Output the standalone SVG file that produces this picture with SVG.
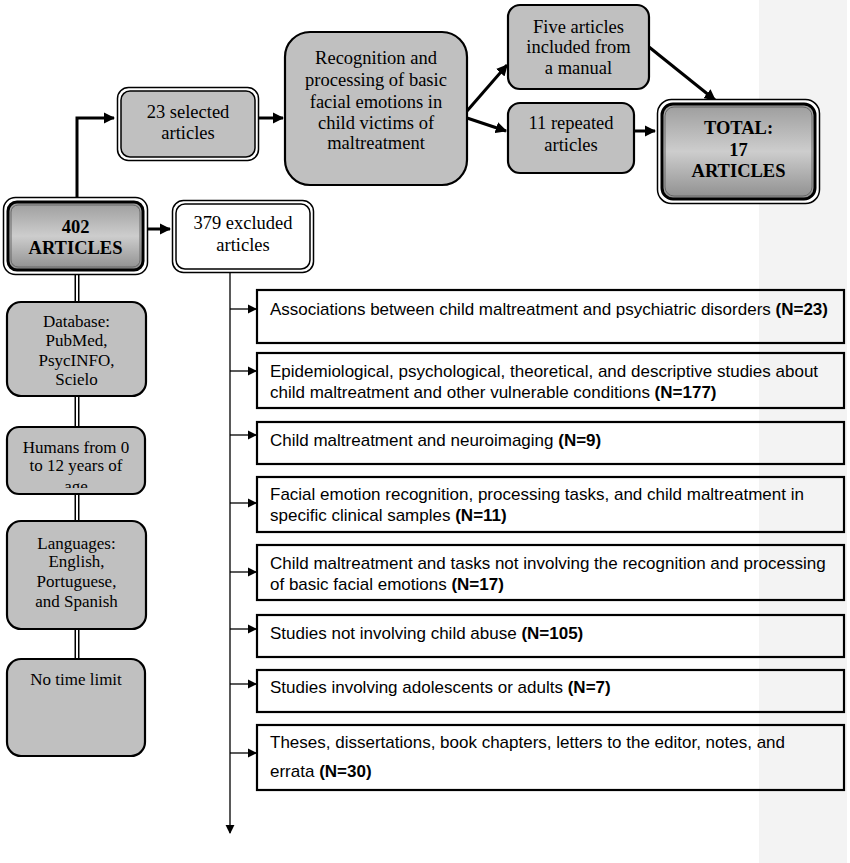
<svg xmlns="http://www.w3.org/2000/svg" width="850" height="863" viewBox="0 0 850 863">
<defs>
<style>
.serif{font-family:"Liberation Serif","Times New Roman",serif;font-size:18.5px;fill:#000;text-anchor:middle}
.sm{font-size:17px}
.bold{font-weight:bold}
.sans{font-family:"Liberation Sans",Arial,sans-serif;font-size:17px;fill:#000}
.rbox{fill:#c0c0c0;stroke:#000;stroke-width:2.2}
.ebox{fill:none;stroke:#000;stroke-width:2.2}
.thick{stroke:#000;stroke-width:3;fill:none}
.thin{stroke:#000;stroke-width:1.3;fill:none}
</style>
<linearGradient id="grad" x1="0" y1="0" x2="0" y2="1">
<stop offset="0" stop-color="#9c9c9c"/>
<stop offset="0.5" stop-color="#cdcdcd"/>
<stop offset="1" stop-color="#8e8e8e"/>
</linearGradient>
<marker id="ah" viewBox="0 0 10 10" refX="9" refY="5" markerWidth="3.8" markerHeight="3.8" orient="auto" markerUnits="strokeWidth">
<path d="M0,0 L10,5 L0,10 z" fill="#000"/>
</marker>
<marker id="as" viewBox="0 0 10 10" refX="9" refY="5" markerWidth="7" markerHeight="7" orient="auto" markerUnits="strokeWidth">
<path d="M0,0 L10,5 L0,10 z" fill="#000"/>
</marker>
<clipPath id="clipHumans"><rect x="8" y="428" width="136" height="60"/></clipPath>
</defs>
<rect x="0" y="0" width="850" height="863" fill="#fff"/>
<rect x="759" y="0" width="88" height="863" fill="#f3f3f3"/>

<g id="connectors">
<polyline class="thick" points="77,197 77,118 114,118" marker-end="url(#ah)"/>
<line class="thick" x1="259" y1="118" x2="283" y2="118" marker-end="url(#ah)"/>
<line class="thick" x1="148" y1="229" x2="170" y2="229" marker-end="url(#ah)"/>
<line class="thick" x1="467" y1="111" x2="507" y2="65" marker-end="url(#ah)"/>
<line class="thick" x1="467" y1="118" x2="506" y2="131" marker-end="url(#ah)"/>
<line class="thick" x1="634" y1="131" x2="655" y2="131" marker-end="url(#ah)"/>
<line class="thick" x1="649" y1="47" x2="715" y2="100" marker-end="url(#ah)"/>
<g>
<line x1="77" y1="275" x2="77" y2="302" stroke="#000" stroke-width="5"/>
<line x1="77" y1="275" x2="77" y2="302" stroke="#fff" stroke-width="2"/>
<line x1="77" y1="396" x2="77" y2="427" stroke="#000" stroke-width="5"/>
<line x1="77" y1="396" x2="77" y2="427" stroke="#fff" stroke-width="2"/>
<line x1="77" y1="494" x2="77" y2="521" stroke="#000" stroke-width="5"/>
<line x1="77" y1="494" x2="77" y2="521" stroke="#fff" stroke-width="2"/>
<line x1="77" y1="629" x2="77" y2="659" stroke="#000" stroke-width="5"/>
<line x1="77" y1="629" x2="77" y2="659" stroke="#fff" stroke-width="2"/>
</g>
<line class="thin" x1="230" y1="273" x2="230" y2="833" marker-end="url(#as)"/>
<line class="thin" x1="230" y1="309" x2="256" y2="309" marker-end="url(#as)"/>
<line class="thin" x1="230" y1="371" x2="256" y2="371" marker-end="url(#as)"/>
<line class="thin" x1="230" y1="435" x2="256" y2="435" marker-end="url(#as)"/>
<line class="thin" x1="230" y1="503" x2="256" y2="503" marker-end="url(#as)"/>
<line class="thin" x1="230" y1="572" x2="256" y2="572" marker-end="url(#as)"/>
<line class="thin" x1="230" y1="629" x2="256" y2="629" marker-end="url(#as)"/>
<line class="thin" x1="230" y1="684" x2="256" y2="684" marker-end="url(#as)"/>
<line class="thin" x1="230" y1="753" x2="256" y2="753" marker-end="url(#as)"/>
</g>

<g id="n402">
<rect x="3.5" y="197.5" width="144" height="77" rx="12" fill="#fff" stroke="#000" stroke-width="1.5"/>
<rect x="8" y="202" width="135" height="68" rx="9" fill="url(#grad)" stroke="#000" stroke-width="3"/>
<rect x="11" y="205" width="129" height="62" rx="7" fill="none" stroke="#666" stroke-width="1"/>
<text class="serif bold" x="75.5" y="233" font-size="19">402</text>
<text class="serif bold" x="75.5" y="254" font-size="19">ARTICLES</text>
</g>

<g id="n23">
<rect x="117.5" y="87.5" width="141" height="73" rx="11" fill="#fff" stroke="#000" stroke-width="1.5"/>
<rect x="121" y="91" width="134" height="66" rx="9" fill="#c0c0c0" stroke="#000" stroke-width="1.5"/>
<text class="serif" x="188" y="118">23 selected</text>
<text class="serif" x="188" y="139">articles</text>
</g>

<g id="n379">
<rect x="172.5" y="200.5" width="141" height="72" rx="11" fill="#fff" stroke="#000" stroke-width="1.5"/>
<rect x="176" y="204" width="134" height="65" rx="9" fill="#fff" stroke="#000" stroke-width="1.5"/>
<text class="serif" x="243" y="229">379 excluded</text>
<text class="serif" x="243" y="251">articles</text>
</g>

<g id="nRecognition">
<rect class="rbox" x="285" y="32" width="182" height="153" rx="25"/>
<text class="serif" x="376" y="64">Recognition and</text>
<text class="serif" x="376" y="86">processing of basic</text>
<text class="serif" x="376" y="108">facial emotions in</text>
<text class="serif" x="376" y="129">child victims of</text>
<text class="serif" x="376" y="149">maltreatment</text>
</g>

<g id="nFive">
<rect class="rbox" x="508" y="5" width="141" height="84" rx="12"/>
<text class="serif" x="578.5" y="33">Five articles</text>
<text class="serif" x="578.5" y="53">included from</text>
<text class="serif" x="578.5" y="74">a manual</text>
</g>

<g id="n11">
<rect class="rbox" x="508" y="103" width="126" height="70" rx="12"/>
<text class="serif" x="571" y="129">11 repeated</text>
<text class="serif" x="571" y="151">articles</text>
</g>

<g id="nTotal">
<rect x="657.5" y="99.5" width="162" height="104" rx="14" fill="#fff" stroke="#000" stroke-width="1.5"/>
<rect x="662" y="104" width="153" height="95" rx="11" fill="url(#grad)" stroke="#000" stroke-width="3"/>
<rect x="665" y="107" width="147" height="89" rx="9" fill="none" stroke="#666" stroke-width="1"/>
<text class="serif bold" x="738.5" y="134">TOTAL:</text>
<text class="serif bold" x="738.5" y="156">17</text>
<text class="serif bold" x="738.5" y="177">ARTICLES</text>
</g>

<g id="nDatabase">
<rect class="rbox" x="7" y="302" width="139" height="94" rx="14"/>
<text class="serif sm" x="76.5" y="327">Database:</text>
<text class="serif sm" x="76.5" y="346">PubMed,</text>
<text class="serif sm" x="76.5" y="366">PsycINFO,</text>
<text class="serif sm" x="76.5" y="385">Scielo</text>
</g>

<g id="nHumans">
<rect class="rbox" x="7" y="427" width="138" height="67" rx="12"/>
<g clip-path="url(#clipHumans)">
<text class="serif sm" x="76" y="453">Humans from 0</text>
<text class="serif sm" x="76" y="471">to 12 years of</text>
<text class="serif sm" x="76" y="492">age</text>
</g>
</g>

<g id="nLanguages">
<rect class="rbox" x="7" y="521" width="139" height="108" rx="14"/>
<text class="serif sm" x="76.5" y="549">Languages:</text>
<text class="serif sm" x="76.5" y="567">English,</text>
<text class="serif sm" x="76.5" y="587">Portuguese,</text>
<text class="serif sm" x="76.5" y="607">and Spanish</text>
</g>

<g id="nNoTime">
<rect class="rbox" x="7" y="659" width="138" height="97" rx="14"/>
<text class="serif sm" x="76" y="685">No time limit</text>
</g>

<g id="e1">
<rect class="ebox" x="257" y="290" width="587" height="53"/>
<text class="sans" x="270" y="315">Associations between child maltreatment and psychiatric disorders <tspan font-weight="bold">(N=23)</tspan></text>
</g>
<g id="e2">
<rect class="ebox" x="257" y="353" width="587" height="55"/>
<text class="sans" x="270" y="377">Epidemiological, psychological, theoretical, and descriptive studies about</text>
<text class="sans" x="270" y="398">child maltreatment and other vulnerable conditions <tspan font-weight="bold">(N=177)</tspan></text>
</g>
<g id="e3">
<rect class="ebox" x="257" y="422" width="587" height="42"/>
<text class="sans" x="270" y="446">Child maltreatment and neuroimaging <tspan font-weight="bold">(N=9)</tspan></text>
</g>
<g id="e4">
<rect class="ebox" x="257" y="477" width="587" height="55"/>
<text class="sans" x="270" y="500">Facial emotion recognition, processing tasks, and child maltreatment in</text>
<text class="sans" x="270" y="521">specific clinical samples <tspan font-weight="bold">(N=11)</tspan></text>
</g>
<g id="e5">
<rect class="ebox" x="257" y="545" width="587" height="55"/>
<text class="sans" x="270" y="569">Child maltreatment and tasks not involving the recognition and processing</text>
<text class="sans" x="270" y="590">of basic facial emotions <tspan font-weight="bold">(N=17)</tspan></text>
</g>
<g id="e6">
<rect class="ebox" x="257" y="615" width="587" height="42"/>
<text class="sans" x="270" y="639">Studies not involving child abuse <tspan font-weight="bold">(N=105)</tspan></text>
</g>
<g id="e7">
<rect class="ebox" x="257" y="670" width="587" height="42"/>
<text class="sans" x="270" y="693">Studies involving adolescents or adults <tspan font-weight="bold">(N=7)</tspan></text>
</g>
<g id="e8">
<rect class="ebox" x="257" y="725" width="587" height="65"/>
<text class="sans" x="270" y="748">Theses, dissertations, book chapters, letters to the editor, notes, and</text>
<text class="sans" x="270" y="777">errata <tspan font-weight="bold">(N=30)</tspan></text>
</g>
</svg>
